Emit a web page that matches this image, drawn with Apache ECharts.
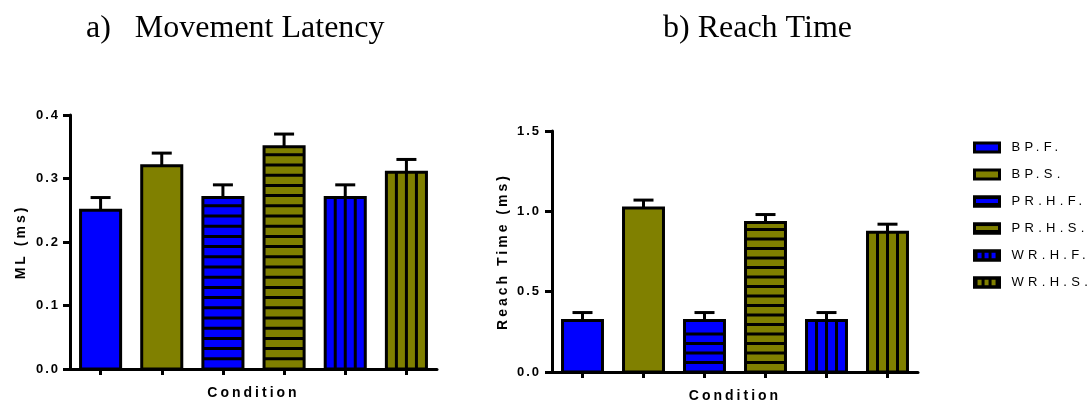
<!DOCTYPE html>
<html>
<head>
<meta charset="utf-8">
<script src="https://cdn.jsdelivr.net/npm/echarts@6/dist/echarts.min.js"></script>
<style>
  html, body { margin: 0; padding: 0; background: #fff; }
  #chart { width: 1090px; height: 403px; }
</style>
</head>
<body>
<div id="chart"></div>
<script>
// Conditions and group means with their error values
const conditions = ['BP.F.', 'BP.S.', 'PR.H.F.', 'PR.H.S.', 'WR.H.F.', 'WR.H.S.'];
const mlMean = [0.25, 0.32, 0.27, 0.35, 0.27, 0.31];
const mlErr = [0.02, 0.02, 0.02, 0.02, 0.02, 0.02];
const rtMean = [0.32, 1.02, 0.32, 0.93, 0.32, 0.87];
const rtErr = [0.05, 0.05, 0.05, 0.05, 0.05, 0.05];
const mlTicks = { min: 0, max: 0.4, interval: 0.1 };
const rtTicks = { min: 0, max: 1.5, interval: 0.5 };

const BLUE = '#0000ff';
const OLIVE = '#808000';
const fills = [BLUE, OLIVE, BLUE, OLIVE, BLUE, OLIVE];
const hatch = ['solid', 'solid', 'horizontal', 'horizontal', 'vertical', 'vertical'];

const SANS = 'Liberation Sans';
const SERIF = 'Liberation Serif';

// Widely tracked lettering for tick, axis-name and legend text
function tracking(font) {
  if (font.indexOf('Serif') >= 0) return '0px';
  const bold = /bold|700/.test(font);
  const m = /(\d+(?:\.\d+)?)px/.exec(font);
  const size = m ? parseFloat(m[1]) : 12;
  if (!bold) return '4.3px';
  return size >= 14 ? '3px' : '2px';
}
const nativeFillText = CanvasRenderingContext2D.prototype.fillText;
CanvasRenderingContext2D.prototype.fillText = function (text, x, y, maxWidth) {
  this.letterSpacing = tracking(this.font);
  return maxWidth === undefined
    ? nativeFillText.call(this, text, x, y)
    : nativeFillText.call(this, text, x, y, maxWidth);
};

// Bar with black outline, optional stripe hatching and a one-sided error bar
function barRenderer(idx, stripePeriod) {
  return function (params, api) {
    const c = api.value(0);
    const v = api.value(1);
    const e = api.value(2);
    const top = api.coord([c, v]);
    const cx = top[0];
    const yTop = top[1];
    const yBase = api.coord([c, 0])[1];
    const yErr = api.coord([c, v + e])[1];
    const w = api.size([1, 0])[0] * 0.655;
    const x0 = cx - w / 2;
    const h = yBase - yTop;
    const children = [
      { type: 'line', shape: { x1: cx, y1: yTop, x2: cx, y2: yErr }, style: { stroke: '#000', lineWidth: 3 } },
      { type: 'line', shape: { x1: cx - 10, y1: yErr, x2: cx + 10, y2: yErr }, style: { stroke: '#000', lineWidth: 3 } },
      { type: 'rect', shape: { x: x0, y: yTop, width: w, height: h }, style: { fill: fills[idx] } }
    ];
    if (hatch[idx] === 'horizontal') {
      for (let y = yBase - stripePeriod; y > yTop + 4; y -= stripePeriod) {
        children.push({ type: 'rect', shape: { x: x0, y: y - 1.5, width: w, height: 3 }, style: { fill: '#000' } });
      }
    } else if (hatch[idx] === 'vertical') {
      for (let k = 1; k <= 3; k++) {
        const x = x0 + (w * k) / 4;
        children.push({ type: 'rect', shape: { x: x - 1.5, y: yTop, width: 3, height: h }, style: { fill: '#000' } });
      }
    }
    children.push({ type: 'rect', shape: { x: x0, y: yTop, width: w, height: h }, style: { fill: 'none', stroke: '#000', lineWidth: 3 } });
    return { type: 'group', children: children };
  };
}

const legendDecal = {
  solid: undefined,
  horizontal: { symbol: 'rect', symbolSize: 1, color: '#000', dashArrayX: [[10, 0]], dashArrayY: [2, 4] },
  vertical: { symbol: 'rect', symbolSize: 1, color: '#000', dashArrayX: [3, 4], dashArrayY: [10, 0] }
};

function valueAxis(gridIndex, ticks, name, margin) {
  return {
    type: 'value',
    gridIndex: gridIndex,
    min: ticks.min,
    max: ticks.max,
    interval: ticks.interval,
    name: name,
    nameLocation: 'middle',
    nameGap: 42,
    nameTextStyle: { fontFamily: SANS, fontSize: 14, fontWeight: 'bold', color: '#000' },
    axisLine: { show: true, lineStyle: { color: '#000', width: 3 } },
    axisTick: { show: true, length: 7, lineStyle: { color: '#000', width: 3 } },
    axisLabel: {
      margin: margin,
      fontFamily: SANS, fontSize: 13, fontWeight: 'bold', color: '#000',
      formatter: function (v) { return v.toFixed(1); }
    },
    splitLine: { show: false }
  };
}

function categoryAxis(gridIndex) {
  return {
    type: 'category',
    gridIndex: gridIndex,
    data: conditions,
    name: 'Condition',
    nameLocation: 'middle',
    nameGap: 17,
    nameTextStyle: { fontFamily: SANS, fontSize: 14, fontWeight: 'bold', color: '#000' },
    axisLine: { show: true, lineStyle: { color: '#000', width: 3 } },
    axisTick: { show: true, alignWithLabel: true, length: 6, lineStyle: { color: '#000', width: 3 } },
    axisLabel: { show: false },
    splitLine: { show: false }
  };
}

const series = [];
conditions.forEach(function (name, i) {
  series.push({
    type: 'custom', name: name, xAxisIndex: 0, yAxisIndex: 0,
    itemStyle: { color: fills[i] },
    data: [[i, mlMean[i], mlErr[i]]],
    renderItem: barRenderer(i, 10.2)
  });
});
conditions.forEach(function (name, i) {
  series.push({
    type: 'custom', name: name, xAxisIndex: 1, yAxisIndex: 1,
    itemStyle: { color: fills[i] },
    data: [[i, rtMean[i], rtErr[i]]],
    renderItem: barRenderer(i, 9.5)
  });
});

const chart = echarts.init(document.getElementById('chart'), null, { renderer: 'canvas' });
chart.setOption({
  animation: false,
  backgroundColor: '#fff',
  title: [
    { text: 'a)   Movement Latency', left: 81, top: 8,
      textStyle: { fontFamily: SERIF, fontSize: 32, fontWeight: 'normal', color: '#000' } },
    { text: 'b) Reach Time', left: 658, top: 8,
      textStyle: { fontFamily: SERIF, fontSize: 32, fontWeight: 'normal', color: '#000' } }
  ],
  grid: [
    { left: 70, right: 653, top: 115, bottom: 34, outerBoundsMode: 'none' },
    { left: 552, right: 172, top: 131, bottom: 31, outerBoundsMode: 'none' }
  ],
  xAxis: [categoryAxis(0), categoryAxis(1)],
  yAxis: [valueAxis(0, mlTicks, 'ML (ms)', 10), valueAxis(1, rtTicks, 'Reach Time (ms)', 11)],
  legend: {
    orient: 'vertical',
    left: 968,
    top: 136,
    itemWidth: 25,
    itemHeight: 9,
    itemGap: 14,
    icon: 'rect',
    selectedMode: false,
    textStyle: { fontFamily: SANS, fontSize: 13, color: '#000', padding: [0, 0, 0, 7] },
    data: conditions.map(function (name, i) {
      const style = { color: fills[i], borderColor: '#000', borderWidth: 3 };
      if (legendDecal[hatch[i]]) style.decal = legendDecal[hatch[i]];
      return { name: name, itemStyle: style };
    })
  },
  series: series
});
</script>
</body>
</html>
